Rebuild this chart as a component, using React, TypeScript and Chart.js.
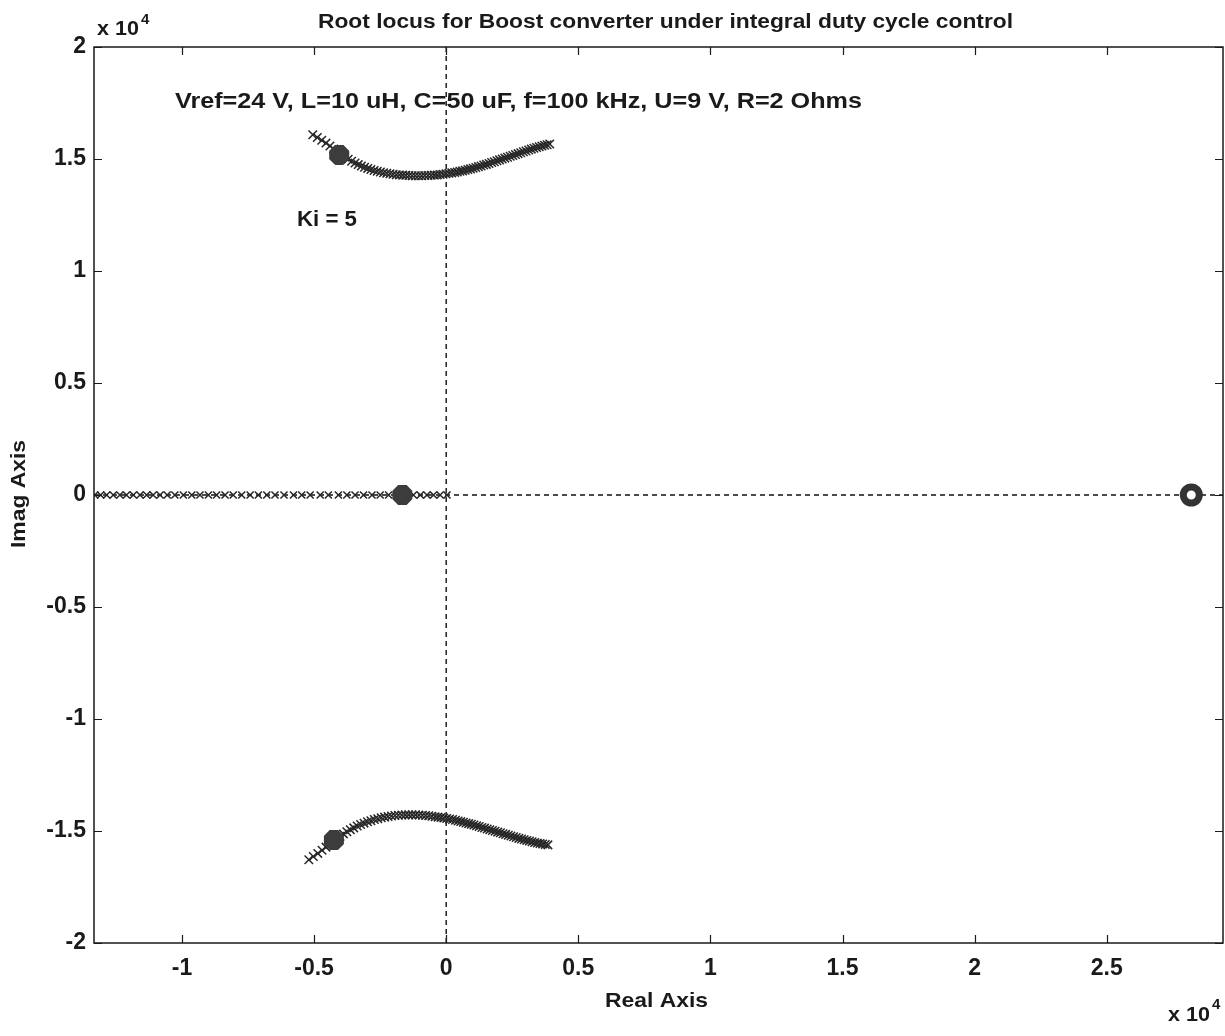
import React, { useEffect, useRef } from "react";
import { Chart, registerables } from "chart.js";

Chart.register(...registerables);

// All locus values are in units of 1e4 (axes show "x 10^4").
const upperRe = [
  -0.505, -0.488, -0.471, -0.455, -0.44, -0.426, -0.412, -0.398, -0.384, -0.371, -0.358, -0.345,
  -0.333, -0.321, -0.309, -0.297, -0.285, -0.273, -0.261, -0.249, -0.237, -0.225, -0.213, -0.201,
  -0.189, -0.177, -0.165, -0.153, -0.141, -0.129, -0.117, -0.105, -0.093, -0.081, -0.069, -0.057,
  -0.045, -0.034, -0.023, -0.012, -0.001, 0.01, 0.021, 0.032, 0.042, 0.052, 0.062, 0.072, 0.082,
  0.092, 0.102, 0.112, 0.122, 0.132, 0.142, 0.152, 0.162, 0.172, 0.182, 0.192, 0.202, 0.212, 0.222,
  0.232, 0.242, 0.252, 0.262, 0.272, 0.282, 0.292, 0.302, 0.312, 0.322, 0.332, 0.342, 0.352, 0.362,
  0.372, 0.382, 0.392,
];
const upperIm = [
  1.608, 1.596, 1.584, 1.571, 1.558, 1.545, 1.532, 1.52, 1.509, 1.499, 1.49, 1.482, 1.475, 1.469,
  1.463, 1.458, 1.453, 1.449, 1.445, 1.442, 1.439, 1.436, 1.434, 1.432, 1.43, 1.429, 1.428, 1.427,
  1.426, 1.425, 1.425, 1.425, 1.425, 1.426, 1.426, 1.427, 1.428, 1.429, 1.431, 1.432, 1.434, 1.436,
  1.438, 1.44, 1.442, 1.445, 1.447, 1.45, 1.453, 1.456, 1.459, 1.462, 1.466, 1.469, 1.473, 1.476,
  1.48, 1.484, 1.488, 1.492, 1.496, 1.5, 1.504, 1.508, 1.512, 1.516, 1.52, 1.524, 1.528, 1.532,
  1.536, 1.54, 1.544, 1.548, 1.551, 1.555, 1.558, 1.561, 1.564, 1.567,
];
const lowerRe = [
  -0.52, -0.503, -0.486, -0.47, -0.455, -0.441, -0.428, -0.415, -0.402, -0.389, -0.376, -0.363,
  -0.35, -0.337, -0.324, -0.311, -0.298, -0.285, -0.272, -0.259, -0.246, -0.233, -0.22, -0.207,
  -0.194, -0.181, -0.168, -0.155, -0.142, -0.129, -0.116, -0.103, -0.09, -0.078, -0.066, -0.054,
  -0.042, -0.031, -0.02, -0.009, 0.002, 0.013, 0.024, 0.035, 0.045, 0.055, 0.065, 0.075, 0.085,
  0.095, 0.105, 0.115, 0.125, 0.135, 0.145, 0.155, 0.165, 0.175, 0.185, 0.195, 0.205, 0.215, 0.225,
  0.235, 0.245, 0.255, 0.265, 0.275, 0.285, 0.295, 0.305, 0.315, 0.325, 0.335, 0.345, 0.355, 0.365,
  0.375, 0.385,
];
const lowerIm = [
  -1.628, -1.614, -1.6, -1.586, -1.572, -1.559, -1.547, -1.535, -1.524, -1.513, -1.503, -1.494,
  -1.486, -1.478, -1.471, -1.465, -1.459, -1.454, -1.449, -1.445, -1.441, -1.438, -1.435, -1.433,
  -1.431, -1.43, -1.429, -1.428, -1.428, -1.428, -1.428, -1.429, -1.43, -1.431, -1.432, -1.434,
  -1.436, -1.438, -1.44, -1.442, -1.444, -1.447, -1.449, -1.452, -1.455, -1.458, -1.461, -1.464,
  -1.467, -1.47, -1.473, -1.477, -1.48, -1.484, -1.487, -1.491, -1.494, -1.498, -1.501, -1.505,
  -1.508, -1.512, -1.515, -1.519, -1.522, -1.526, -1.529, -1.533, -1.536, -1.539, -1.542, -1.545,
  -1.548, -1.551, -1.554, -1.556, -1.558, -1.56, -1.562,
];
const realBranchRe = [
  -1.33, -1.308, -1.285, -1.26, -1.235, -1.21, -1.184, -1.159, -1.134, -1.109, -1.083, -1.056,
  -1.027, -0.995, -0.963, -0.932, -0.9, -0.869, -0.837, -0.806, -0.774, -0.742, -0.711, -0.679,
  -0.648, -0.614, -0.578, -0.547, -0.515, -0.477, -0.446, -0.408, -0.376, -0.345, -0.313, -0.281,
  -0.25, -0.218, -0.187, -0.155, -0.124, -0.098, -0.073, -0.048, -0.023, 0.003,
];
// Closed-loop poles at Ki = 5
const kiPolesRe = [-0.405, -0.425, -0.166];
const kiPolesIm = [1.518, -1.54, 0.0];
// Open-loop zero
const zeroRe = [2.82];
const zeroIm = [0.0];

const xTickValues = [-1, -0.5, 0, 0.5, 1, 1.5, 2, 2.5];
const yTickValues = [-2, -1.5, -1, -0.5, 0, 0.5, 1, 1.5, 2];
const xLimits = [-1.333, 2.94];
const yLimits = [-2, 2];

const titleText = "Root locus for Boost converter under integral duty cycle control";
const paramText = "Vref=24 V, L=10 uH, C=50 uF, f=100 kHz, U=9 V, R=2 Ohms";
const kiText = "Ki = 5";
const xLabel = "Real Axis";
const yLabel = "Imag Axis";

const FONT = "'Liberation Sans', Arial, Helvetica, sans-serif";
const INK = "#1a1a1a";

const zip = (xs: number[], ys: number[]) => xs.map((x, i) => ({ x, y: ys[i] }));

// draw text left-aligned at baseline (x, y), stretched horizontally to a target width
function stretchText(ctx: any, text: string, x: number, y: number, font: string, width: number) {
  ctx.font = font;
  ctx.textAlign = "left";
  ctx.textBaseline = "alphabetic";
  const w = ctx.measureText(text).width;
  ctx.save();
  ctx.translate(x, y);
  ctx.scale(width / w, 1);
  ctx.fillText(text, 0, 0);
  ctx.restore();
}

const framePlugin = {
  id: "matlabFrame",
  afterDraw(chart: any) {
    const { ctx, chartArea: a, scales } = chart;
    const xs = scales.x;
    const ys = scales.y;
    ctx.save();
    ctx.strokeStyle = INK;
    ctx.lineWidth = 1.5;
    ctx.strokeRect(a.left, a.top, a.right - a.left, a.bottom - a.top);
    const L = 8;
    ctx.beginPath();
    xTickValues.forEach((v) => {
      const p = Math.round(xs.getPixelForValue(v)) + 0.5;
      ctx.moveTo(p, a.bottom);
      ctx.lineTo(p, a.bottom - L);
      ctx.moveTo(p, a.top);
      ctx.lineTo(p, a.top + L);
    });
    yTickValues.forEach((v) => {
      const p = Math.round(ys.getPixelForValue(v)) + 0.5;
      ctx.moveTo(a.left, p);
      ctx.lineTo(a.left + L, p);
      ctx.moveTo(a.right, p);
      ctx.lineTo(a.right - L, p);
    });
    ctx.lineWidth = 1.2;
    ctx.stroke();

    ctx.fillStyle = INK;
    stretchText(ctx, titleText, 318, 28, `bold 20px ${FONT}`, 695);
    stretchText(ctx, paramText, 175, 108, `bold 22px ${FONT}`, 687);
    stretchText(ctx, kiText, 297, 226, `bold 22px ${FONT}`, 60);
    stretchText(ctx, xLabel, 605, 1007, `bold 21px ${FONT}`, 103);
    ctx.save();
    ctx.translate(25, 548);
    ctx.rotate(-Math.PI / 2);
    stretchText(ctx, yLabel, 0, 0, `bold 21px ${FONT}`, 108);
    ctx.restore();
    // exponent labels
    const expo = (x: number, y: number, sy: number) => {
      stretchText(ctx, "x 10", x, y, `bold 21px ${FONT}`, 42);
      ctx.font = `bold 15px ${FONT}`;
      ctx.fillText("4", x + 44, sy);
    };
    expo(97, 35, 24);
    expo(1168, 1021, 1009);
    ctx.restore();
  },
};

export default function App() {
  const ref = useRef<HTMLCanvasElement | null>(null);
  useEffect(() => {
    document.body.style.margin = "0";
    const canvas = ref.current;
    if (!canvas) return;
    const crossStyle = {
      type: "scatter" as const,
      showLine: false,
      pointStyle: "crossRot",
      pointRadius: 6,
      pointBorderWidth: 1.5,
      borderColor: "#262626",
      backgroundColor: "#262626",
      order: 3,
    };
    const chart = new Chart(canvas, {
      type: "scatter",
      data: {
        datasets: [
          {
            type: "scatter",
            data: zip(kiPolesRe, kiPolesIm),
            pointStyle: "star",
            pointRadius: 10,
            pointBorderWidth: 8,
            borderColor: "#3c3c3c",
            backgroundColor: "#3c3c3c",
            order: 0,
          },
          {
            type: "scatter",
            data: zip(zeroRe, zeroIm),
            pointStyle: "circle",
            pointRadius: 8,
            pointBorderWidth: 7,
            borderColor: "#333",
            backgroundColor: "#fff",
            order: 0,
          },
          { ...crossStyle, data: zip(upperRe, upperIm) },
          { ...crossStyle, data: zip(lowerRe, lowerIm) },
          { ...crossStyle, pointRadius: 5, data: zip(realBranchRe, realBranchRe.map(() => 0)) },
          {
            type: "line",
            data: [
              { x: xLimits[0], y: 0 },
              { x: xLimits[1], y: 0 },
            ],
            borderColor: "#111",
            borderWidth: 1.4,
            borderDash: [5, 4],
            pointRadius: 0,
            showLine: true,
            order: 6,
          },
          {
            type: "line",
            data: [
              { x: 0, y: yLimits[0] },
              { x: 0, y: yLimits[1] },
            ],
            borderColor: "#111",
            borderWidth: 1.4,
            borderDash: [5, 4],
            pointRadius: 0,
            showLine: true,
            order: 6,
          },
        ] as any,
      },
      options: {
        animation: false,
        responsive: false,
        events: [],
        layout: { autoPadding: false, padding: { top: 47, right: 2, left: 0, bottom: 0 } },
        plugins: {
          legend: { display: false },
          tooltip: { enabled: false },
          title: { display: false },
        },
        scales: {
          x: {
            type: "linear",
            min: xLimits[0],
            max: xLimits[1],
            grid: { display: false, drawTicks: false },
            border: { display: false },
            afterBuildTicks: (s: any) => {
              s.ticks = xTickValues.map((v) => ({ value: v }));
            },
            afterFit: (s: any) => {
              s.height = 93;
              s.paddingLeft = 0;
              s.paddingRight = 0;
            },
            ticks: {
              autoSkip: false,
              maxRotation: 0,
              padding: 12,
              color: INK,
              font: { family: FONT, size: 23, weight: "bold" },
              callback: (v: any) => String(v),
            },
          },
          y: {
            type: "linear",
            min: yLimits[0],
            max: yLimits[1],
            grid: { display: false, drawTicks: false },
            border: { display: false },
            afterBuildTicks: (s: any) => {
              s.ticks = yTickValues.map((v) => ({ value: v }));
            },
            afterFit: (s: any) => {
              s.width = 94;
              s.paddingTop = 0;
              s.paddingBottom = 0;
            },
            ticks: {
              autoSkip: false,
              padding: 8,
              color: INK,
              font: { family: FONT, size: 23, weight: "bold" },
              callback: (v: any) => String(v),
            },
          },
        },
      } as any,
      plugins: [framePlugin],
    });
    return () => chart.destroy();
  }, []);
  return (
    <div style={{ width: 1225, height: 1036, background: "#fff" }}>
      <canvas ref={ref} width={1225} height={1036} style={{ display: "block" }} />
    </div>
  );
}
